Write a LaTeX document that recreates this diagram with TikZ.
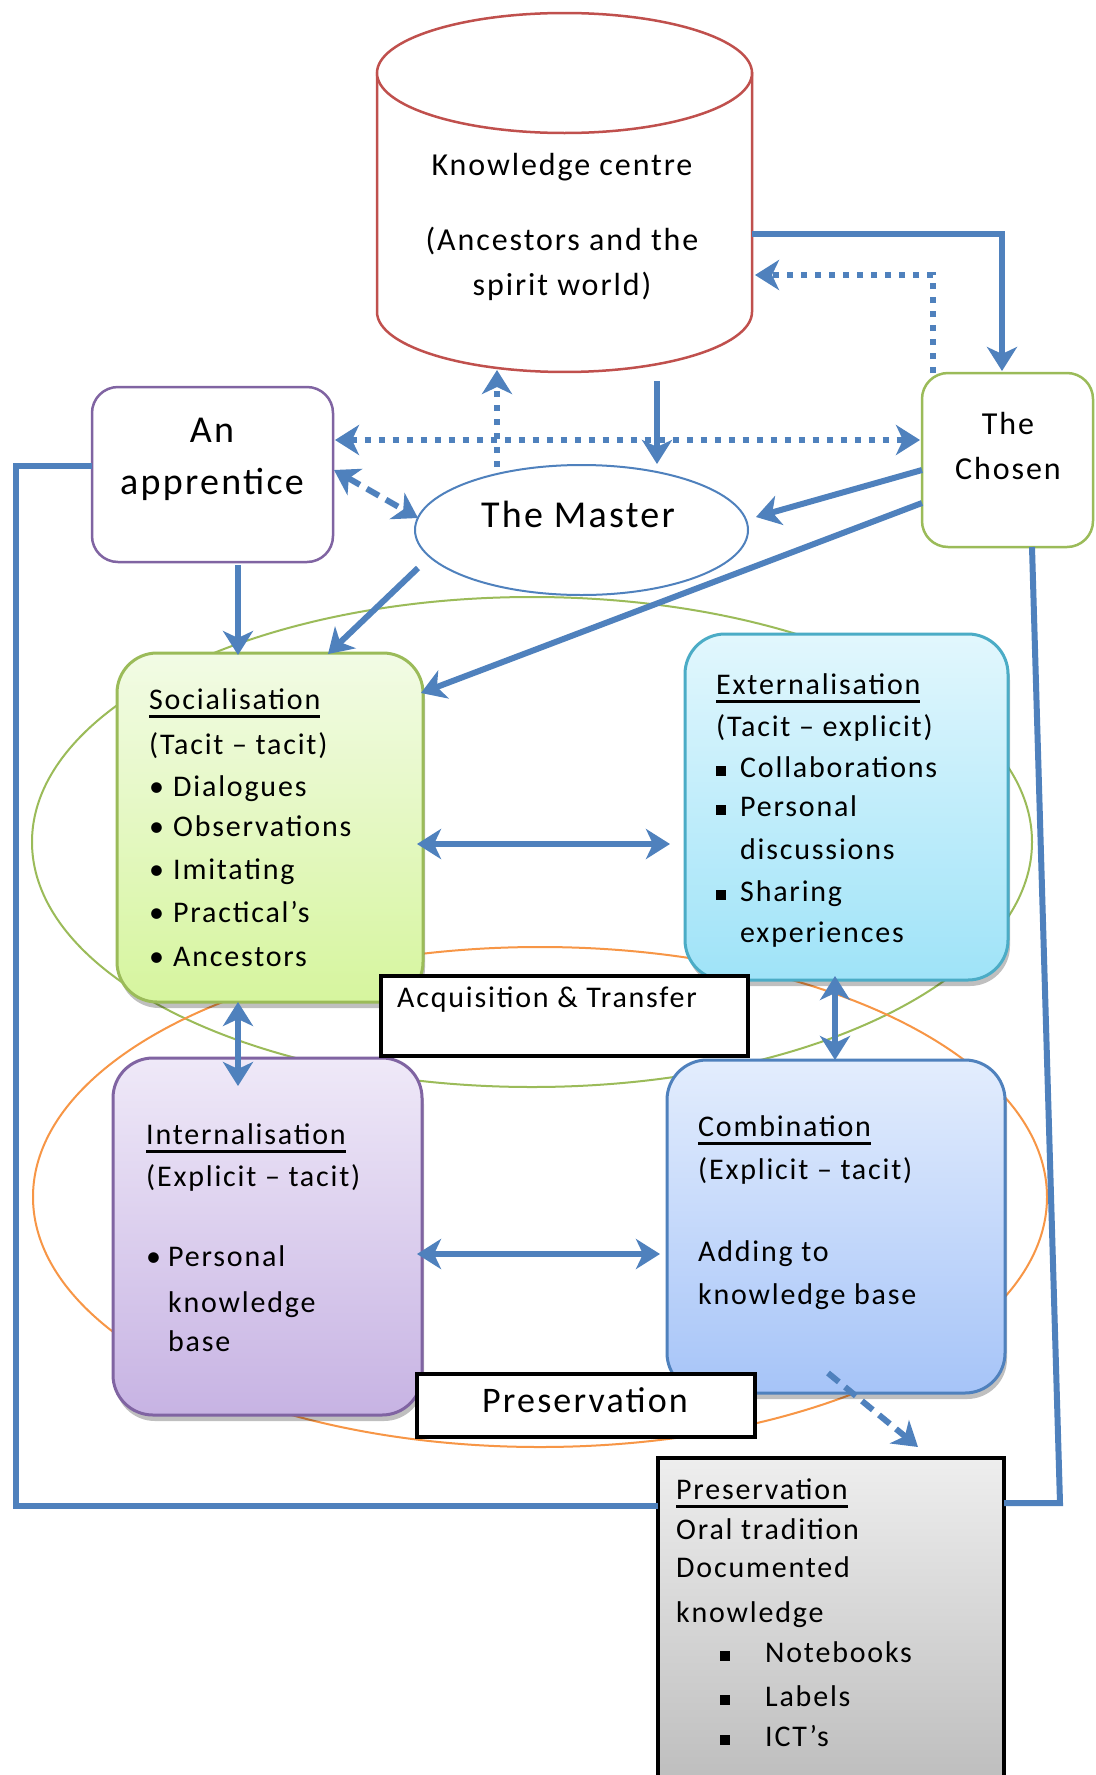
\documentclass[tikz,border=0pt]{standalone}
\usepackage{fontspec}
\setmainfont{Carlito}[LetterSpace=6]
\usetikzlibrary{arrows.meta,shadows,shapes.geometric}
\definecolor{blueA}{HTML}{4F81BD}
\definecolor{redA}{HTML}{C0504D}
\definecolor{purpleA}{HTML}{8064A2}
\definecolor{greenA}{HTML}{9BBB59}
\definecolor{cyanA}{HTML}{4BACC6}
\definecolor{orangeA}{HTML}{F79646}
\newcommand{\myfs}[1]{\fontsize{#1}{#1}\selectfont}
\newcommand{\ulx}[1]{\setbox0=\hbox{#1}\leavevmode\rlap{\rule[-8pt]{\wd0}{3pt}}\box0}
\newcommand{\rb}[1]{\makebox[#1][l]{•}}
\newcommand{\sqb}[1]{\makebox[#1][l]{\rule[2pt]{10pt}{10pt}}}
\begin{document}
\begin{tikzpicture}[x=1pt,y=-1pt,
  lbl/.style={inner sep=0pt, text height=19pt, text depth=0pt, anchor=west, font=\myfs{30}},
  ctr/.style={lbl, anchor=center},
  big/.style={text height=24pt},
  conn/.style={draw=blueA, line width=6pt},
  arr/.style={conn, -{Stealth[length=24pt,width=30pt,inset=7pt]}},
  darr/.style={conn, {Stealth[length=24pt,width=30pt,inset=7pt]}-{Stealth[length=24pt,width=30pt,inset=7pt]}},
  dotl/.style={dash pattern=on 6pt off 8pt},
  dashl/.style={dash pattern=on 14pt off 8pt},
  cbox/.style={rounded corners=40pt, line width=3pt, drop shadow={shadow xshift=2pt, shadow yshift=-6pt, opacity=0.25, fill=black}},
  wbox/.style={draw=black, line width=4pt, fill=white},
  rbox/.style={rounded corners=26pt, line width=2.5pt, fill=white}
]
\fill[white] (0,0) rectangle (1095,1775);
\useasboundingbox (0,0) rectangle (1095,1775);

% background ellipses
\draw[greenA, line width=2pt] (532,842) ellipse [x radius=500pt, y radius=245pt];
\draw[orangeA, line width=2pt] (540,1197) ellipse [x radius=507pt, y radius=250pt];

% knowledge centre cylinder
\draw[redA, line width=2.5pt, fill=white] (752,73) -- (752,312) -- plot[domain=0:180, samples=60] ({564.5+187.5*cos(\x)}, {312+60*sin(\x)}) -- (377,73) -- cycle;
\draw[redA, line width=2.5pt, fill=white] (564.5,73) ellipse [x radius=187.5pt, y radius=60pt];
\node[ctr, big, font=\myfs{32}] (kc1) at (562,163) {Knowledge centre};
\node[ctr, big, font=\myfs{32}] (kc2) at (562,238) {(Ancestors and the};
\node[ctr, big, font=\myfs{32}] (kc3) at (562,283) {spirit world)};

% actors
\node[rbox, draw=purpleA, minimum width=241pt, minimum height=175pt] (app) at (212.5,474.5) {};
\node[ctr, big, font=\myfs{38}] (app1) at (212,430) {An};
\node[ctr, big, font=\myfs{38}] (app2) at (212,482) {apprentice};

\node[rbox, draw=greenA, minimum width=171pt, minimum height=174pt] (chosen) at (1007.5,460) {};
\node[ctr, big, font=\myfs{32}] (ch1) at (1008,422) {The};
\node[ctr, big, font=\myfs{32}] (ch2) at (1008,467) {Chosen};

\node[ellipse, draw=blueA, line width=2pt, fill=white, minimum width=333pt, minimum height=130pt] (master) at (581.5,530) {};
\node[ctr, big, font=\myfs{38}] (m1) at (578,515) {The Master};

% SECI boxes
\node[cbox, draw=greenA, top color={rgb,255:red,242;green,251;blue,229}, bottom color={rgb,255:red,214;green,245;blue,158}, minimum width=306pt, minimum height=349pt] (soc) at (270,827.5) {};
\node[cbox, draw=cyanA, top color={rgb,255:red,226;green,247;blue,253}, bottom color={rgb,255:red,159;green,227;blue,248}, minimum width=323pt, minimum height=346pt] (ext) at (846.5,807) {};
\node[cbox, draw=purpleA, top color={rgb,255:red,239;green,233;blue,248}, bottom color={rgb,255:red,199;green,179;blue,227}, minimum width=309pt, minimum height=357pt] (int) at (267.5,1236.5) {};
\node[cbox, draw=blueA, top color={rgb,255:red,227;green,237;blue,253}, bottom color={rgb,255:red,166;green,196;blue,248}, minimum width=338pt, minimum height=333pt] (com) at (836,1226.5) {};

% label boxes
\node[wbox, minimum width=367pt, minimum height=80pt] (acq) at (564.5,1016) {};
\node[lbl] (acq1) at (397,998) {Acquisition \& Transfer};
\node[wbox, minimum width=338pt, minimum height=63pt] (pres) at (586,1405.5) {};
\node[ctr, big, font=\myfs{36}] (pres1) at (585,1400) {Preservation};
\node[draw=black, line width=4pt, top color={rgb,255:red,238;green,238;blue,238}, bottom color={rgb,255:red,187;green,187;blue,187}, minimum width=346pt, minimum height=342pt] (pbox) at (831,1629) {};

% socialisation text
\node[lbl] (s1) at (149,700) {\ulx{Socialisation}};
\node[lbl] (s2) at (149,745) {(Tacit – tacit)};
\node[lbl] (s3) at (149,787) {\rb{24pt}Dialogues};
\node[lbl] (s4) at (149,827) {\rb{24pt}Observations};
\node[lbl] (s5) at (149,870) {\rb{24pt}Imitating};
\node[lbl] (s6) at (149,913) {\rb{24pt}Practical's};
\node[lbl] (s7) at (149,957) {\rb{24pt}Ancestors};

% externalisation text
\node[lbl] (e1) at (716,685) {\ulx{Externalisation}};
\node[lbl] (e2) at (716,727) {(Tacit – explicit)};
\node[lbl] (e3) at (716,768) {\sqb{24pt}Collaborations};
\node[lbl] (e4) at (716,807) {\sqb{24pt}Personal};
\node[lbl] (e5) at (740,850) {discussions};
\node[lbl] (e6) at (716,892) {\sqb{24pt}Sharing};
\node[lbl] (e7) at (740,933) {experiences};

% internalisation text
\node[lbl] (i1) at (146,1135) {\ulx{Internalisation}};
\node[lbl] (i2) at (146,1177) {(Explicit – tacit)};
\node[lbl] (i3) at (146,1257) {\rb{22pt}Personal};
\node[lbl] (i4) at (168,1303) {knowledge};
\node[lbl] (i5) at (168,1342) {base};

% combination text
\node[lbl] (c1) at (698,1127) {\ulx{Combination}};
\node[lbl] (c2) at (698,1170) {(Explicit – tacit)};
\node[lbl] (c3) at (698,1252) {Adding to};
\node[lbl] (c4) at (698,1295) {knowledge base};

% preservation box text
\node[lbl] (p1) at (676,1490) {\ulx{Preservation}};
\node[lbl] (p2) at (676,1530) {Oral tradition};
\node[lbl] (p3) at (676,1568) {Documented};
\node[lbl] (p4) at (676,1613) {knowledge};
\node[lbl] (p5) at (720,1653) {\sqb{45pt}Notebooks};
\node[lbl] (p6) at (720,1697) {\sqb{45pt}Labels};
\node[lbl] (p7) at (720,1737) {\sqb{45pt}ICT's};

% connector end points
\coordinate (kcR) at (752,234);
\coordinate (kcR2) at (755,275);
\coordinate (kcB1) at (497,370);
\coordinate (kcB2) at (657,381);
\coordinate (chT1) at (1002,371);
\coordinate (chT2) at (933,373);
\coordinate (chL1) at (920,440);
\coordinate (chL2) at (922,470);
\coordinate (chL3) at (922,503);
\coordinate (chB) at (1032,547);
\coordinate (appE1) at (335,440);
\coordinate (appE2) at (334,470);
\coordinate (appB) at (238,565);
\coordinate (appW) at (92,466);
\coordinate (mT1) at (497,467);
\coordinate (mT2) at (657,464);
\coordinate (mL) at (418,518);
\coordinate (mR) at (756,517);
\coordinate (mBL) at (418,568);
\coordinate (socTR) at (421,693);
\coordinate (socT1) at (238,655);
\coordinate (socT2) at (328,654);
\coordinate (socR) at (417,844);
\coordinate (socB) at (238,1002);
\coordinate (extL) at (670,844);
\coordinate (extB) at (835,976);
\coordinate (intT) at (238,1086);
\coordinate (intR) at (417,1254);
\coordinate (comT) at (835,1060);
\coordinate (comL) at (660,1254);
\coordinate (comB) at (828,1373);
\coordinate (presT) at (918,1447);
\coordinate (presL) at (658,1506);
\coordinate (presR) at (1004,1503);

% connectors
\draw[arr] (kcR) -- (1002,234) -- (chT1);
\draw[arr, dotl] (chT2) -- (933,275) -- (kcR2);
\draw[darr, dotl] (appE1) -- (chL1);
\draw[arr, dotl] (mT1) -- (kcB1);
\draw[arr] (kcB2) -- (mT2);
\draw[darr, dashl] (appE2) -- (mL);
\draw[arr] (chL2) -- (mR);
\draw[arr] (chL3) -- (socTR);
\draw[arr] (appB) -- (socT1);
\draw[arr] (mBL) -- (socT2);
\draw[darr] (socR) -- (extL);
\draw[darr] (socB) -- (intT);
\draw[darr] (extB) -- (comT);
\draw[darr] (intR) -- (comL);
\draw[arr, dashl] (comB) -- (presT);
\draw[conn] (appW) -- (16,466) -- (16,1506) -- (presL);
\draw[conn] (chB) -- (1060,1503) -- (presR);
\end{tikzpicture}
\end{document}
